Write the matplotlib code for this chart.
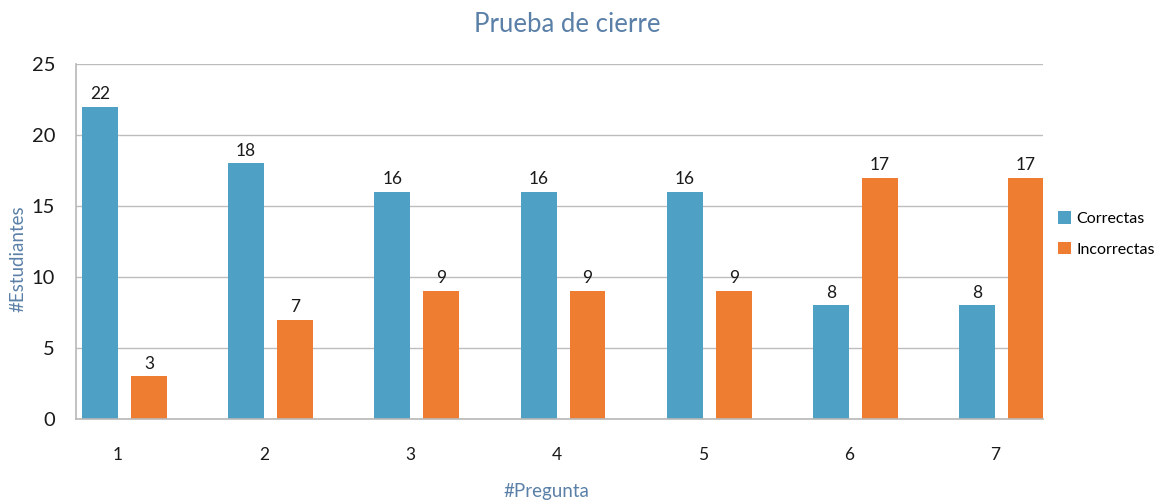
import matplotlib
matplotlib.use("Agg")
import matplotlib.pyplot as plt
import numpy as np

categories = ["1", "2", "3", "4", "5", "6", "7"]
correctas = [22, 18, 16, 16, 16, 8, 8]
incorrectas = [3, 7, 9, 9, 9, 17, 17]

plt.rcParams['font.family'] = ['Lato', 'DejaVu Sans']

blue = '#4ea1c5'
orange = '#ee7d31'
title_col = '#5b80a8'

fig = plt.figure(figsize=(11.56, 5.01), dpi=100)
ax = fig.add_axes([0.0657, 0.1637, 0.9023 - 0.0657, 0.8723 - 0.1637])

x = np.arange(len(categories))
w = 0.246
off = 0.335
b1 = ax.bar(x, correctas, w, color=blue, label='Correctas')
b2 = ax.bar(x + off, incorrectas, w, color=orange, label='Incorrectas')

for bars, vals in ((b1, correctas), (b2, incorrectas)):
    for r, v in zip(bars, vals):
        ax.annotate(str(v), (r.get_x() + r.get_width() / 2, v), xytext=(0, 3.5),
                    textcoords='offset points', ha='center', va='bottom',
                    fontsize=12.5, color='#1a1a1a')

ax.set_xlim(-0.164, 6.451)
ax.set_ylim(0, 25)
ax.set_yticks([0, 5, 10, 15, 20, 25])
ax.set_xticks(x + 0.123)
ax.set_xticklabels(categories)
ax.tick_params(axis='y', length=0, pad=15, labelsize=14.5, labelcolor='#1a1a1a')
ax.tick_params(axis='x', length=0, pad=20, labelsize=12.5, labelcolor='#1a1a1a')
ax.grid(axis='y', color='#bdbdbd', linewidth=1)
ax.set_axisbelow(True)
for s in ('top', 'right'):
    ax.spines[s].set_visible(False)
for s in ('left', 'bottom'):
    ax.spines[s].set_color('#b8b8b8')
    ax.spines[s].set_linewidth(1.2)

fig.text(0.491, 0.952, 'Prueba de cierre', ha='center', va='center',
         fontsize=18.5, color=title_col)
fig.text(0.016, 0.483, '#Estudiantes', ha='center', va='center', rotation=90,
         fontsize=13.5, color=title_col)
fig.text(0.473, 0.018, '#Pregunta', ha='center', va='center',
         fontsize=13.5, color=title_col)

fig.legend(handles=[b1, b2], labels=['Correctas', 'Incorrectas'],
           loc='center left', bbox_to_anchor=(0.9095, 0.533), frameon=False,
           fontsize=11.5, handlelength=0.8, handleheight=0.8, handletextpad=0.35,
           labelspacing=1.0, borderaxespad=0)

fig.savefig('out.png', dpi=100)
